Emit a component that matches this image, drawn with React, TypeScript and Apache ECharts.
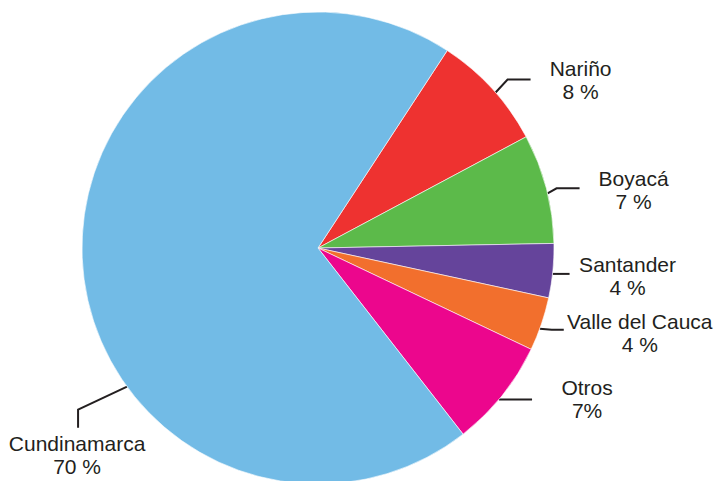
import React, { useEffect, useRef } from "react";
import * as echarts from "echarts";

const categories = ["Nariño", "Boyacá", "Santander", "Valle del Cauca", "Otros", "Cundinamarca"];
const values = [7.97, 7.5, 3.7, 3.67, 7.4, 69.76];
const pctLabels = ["8 %", "7 %", "4 %", "4 %", "7%", "70 %"];
const colors = ["#EE3230", "#5CBA4A", "#65449B", "#F26F2D", "#EC068D", "#72BBE6"];

const CX = 318;
const CY = 248;
const R = 236;

// leader line geometry relative to line start: [elbowDx, elbowDy, endDx, endDy, labelDx, labelDy]
const leader: number[][] = [
  [12, -13, 35, -13, 85, -13],
  [9, -5, 32, -5, 86, -3],
  [8, 0, 17, 0, 75, 2],
  [12, 1, 24, 1, 100, 4],
  [15, 0, 33, 0, 88, 0],
  [-49, 23, -49, 41, -50, 68],
];
// custom start angle (deg) for leader lines
const startAngles: number[] = [41.2, 13.4, -6.3, -20, -39.9, -144];

export default function App() {
  const ref = useRef<HTMLDivElement>(null);
  useEffect(() => {
    if (!ref.current) return;
    const chart = echarts.init(ref.current, undefined, { renderer: "svg" });
    chart.setOption({
      animation: false,
      backgroundColor: "#ffffff",
      series: [
        {
          type: "pie",
          center: [CX, CY],
          radius: [0, R],
          startAngle: 56.8,
          clockwise: true,
          silent: true,
          avoidLabelOverlap: false,
          itemStyle: { borderColor: "#ffffff", borderWidth: 0.6 },
          label: {
            show: true,
            position: "outside",
            alignTo: "none",
            overflow: "none",
            width: 300,
            formatter: (p: any) => `${categories[p.dataIndex]}\n${pctLabels[p.dataIndex]}`,
            fontFamily: "Liberation Sans, Arial, sans-serif",
            fontSize: 21,
            lineHeight: 23,
            color: "#231F20",
            align: "center",
          },
          labelLine: {
            show: true,
            length: 10,
            length2: 10,
            lineStyle: { color: "#231F20", width: 2 },
          },
          labelLayout: (params: any) => {
            const i = params.dataIndex;
            const g = leader[i];
            const a = startAngles[i];
            const sx = CX + R * Math.cos((a * Math.PI) / 180);
            const sy = CY - R * Math.sin((a * Math.PI) / 180);
            return {
              x: sx + g[4],
              y: sy + g[5],
              align: "center",
              verticalAlign: "middle",
              labelLinePoints: [
                [sx, sy],
                [sx + g[0], sy + g[1]],
                [sx + g[2], sy + g[3]],
              ],
            };
          },
          data: categories.map((c, i) => ({
            name: c,
            value: values[i],
            itemStyle: { color: colors[i] },
          })),
        },
      ],
    });
    return () => chart.dispose();
  }, []);
  return (
    <div
      ref={ref}
      style={{ position: "fixed", left: 0, top: 0, width: 715, height: 481 }}
    />
  );
}
